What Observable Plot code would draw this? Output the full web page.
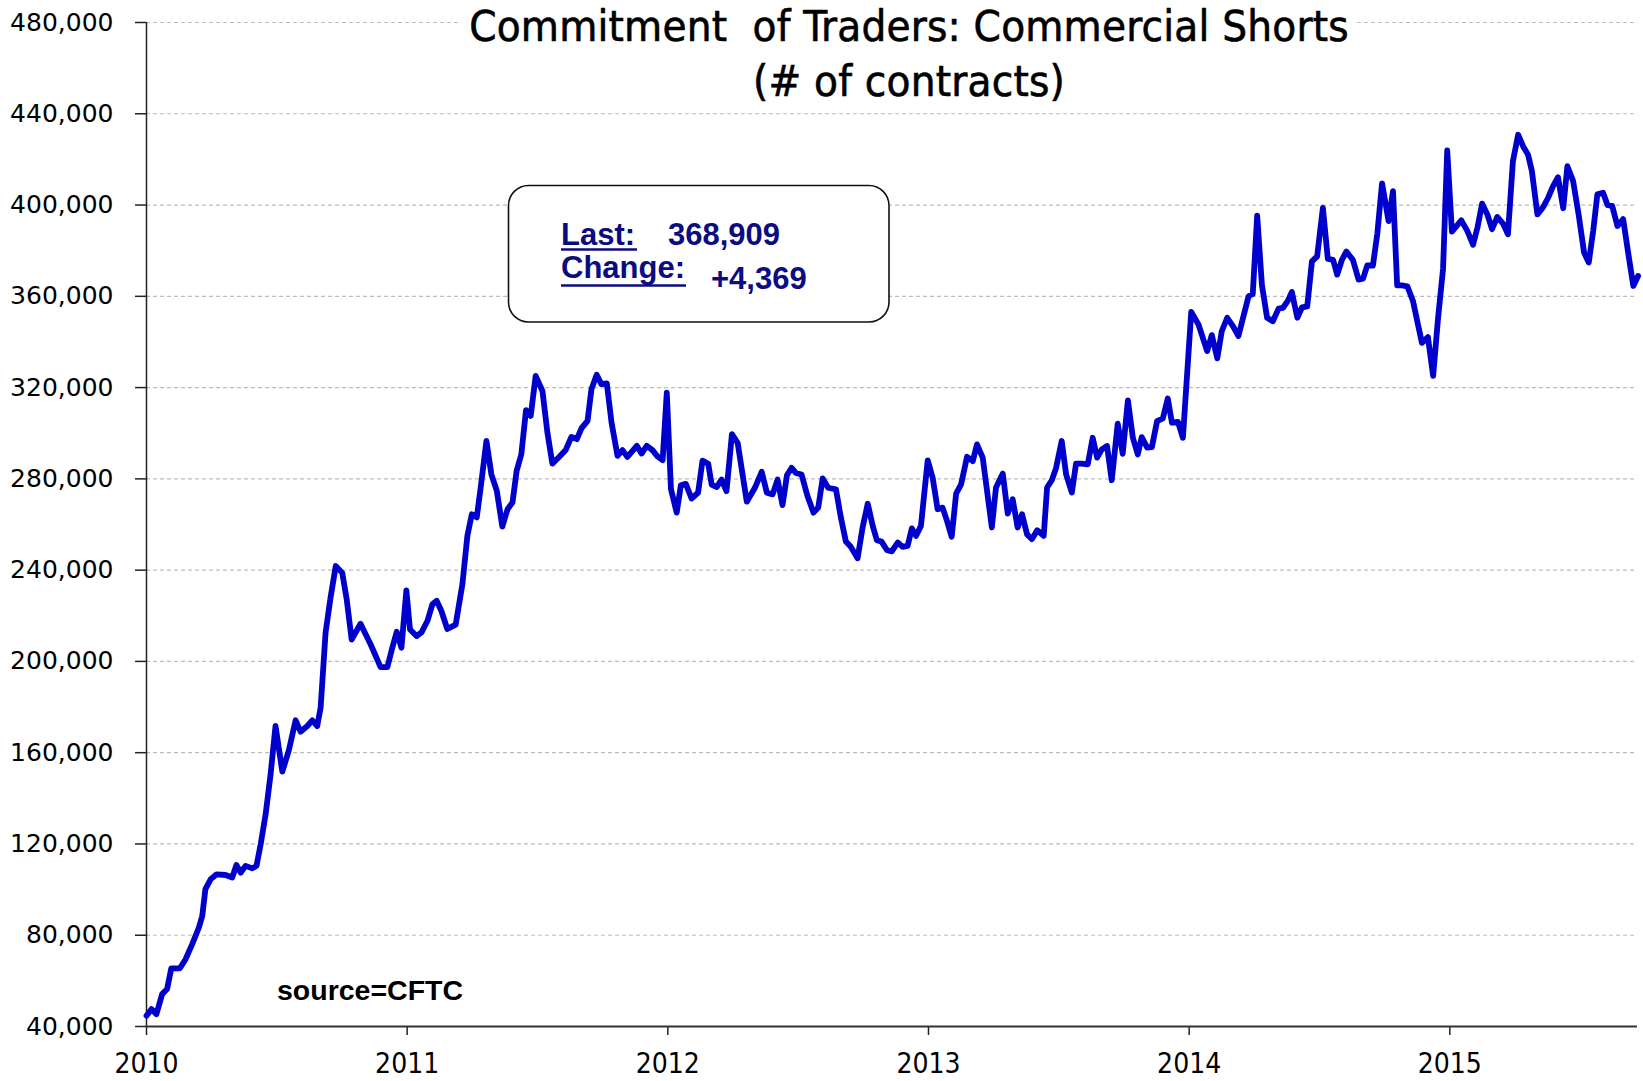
<!DOCTYPE html>
<html><head><meta charset="utf-8">
<script src="https://cdn.jsdelivr.net/npm/d3@7"></script>
<script src="https://cdn.jsdelivr.net/npm/@observablehq/plot@0.6"></script>
<style>
html,body{margin:0;padding:0;background:#fff;}
#wrap{position:relative;width:1643px;height:1081px;overflow:hidden;background:#fff;}
#wrap > svg{position:absolute;left:0;top:0;}
</style></head><body><div id="wrap"></div>
<script>
// Weekly report dates (decimal years) and commercial short positions
const t2010 = [2010.000,2010.019,2010.038,2010.060,2010.079,2010.095,2010.128,2010.150,2010.175,2010.201,2010.214,2010.226,2010.246,2010.269,2010.303,2010.329,2010.345,2010.361,2010.380,2010.406,2010.422,2010.438,2010.457,2010.476,2010.495,2010.521,2010.546,2010.572,2010.591,2010.617,2010.636,2010.655,2010.668,2010.687,2010.706,2010.726,2010.751,2010.768,2010.787,2010.821,2010.860,2010.898,2010.924,2010.943,2010.960,2010.978,2010.997,2011.011,2011.036];
const v2010 = [44700,47600,45400,54200,56400,65500,65500,69500,76000,83400,88500,100200,104500,106700,106400,105300,110800,107400,110400,109300,110400,119900,133000,150500,171700,151700,161000,174200,169200,171700,174200,171700,179700,212600,227900,241800,238800,227200,209600,216500,207400,197500,197500,206000,213000,206000,231100,214000,211100];

const t2011 = [2011.055,2011.078,2011.097,2011.113,2011.131,2011.154,2011.186,2011.212,2011.231,2011.248,2011.267,2011.282,2011.304,2011.323,2011.344,2011.365,2011.385,2011.404,2011.420,2011.438,2011.456,2011.474,2011.493,2011.519,2011.538,2011.557,2011.583,2011.608,2011.630,2011.651,2011.669,2011.692,2011.707,2011.727,2011.745,2011.766,2011.784,2011.807,2011.826,2011.845,2011.881,2011.899,2011.919,2011.941,2011.958,2011.980,2011.996];
const v2011 = [212700,217800,225100,226600,222200,214200,216100,233900,255000,264500,263100,276200,296600,282000,274700,259100,266700,269600,283500,290800,310100,307600,325100,318500,300300,286700,289600,292600,298400,297400,302200,305400,319300,325600,321500,321800,304700,290100,292600,289600,294500,291100,294500,292600,290100,288200,317800];

const t2012 = [2012.012,2012.034,2012.050,2012.069,2012.091,2012.116,2012.133,2012.155,2012.168,2012.188,2012.206,2012.225,2012.246,2012.268,2012.303,2012.334,2012.360,2012.380,2012.402,2012.421,2012.440,2012.457,2012.475,2012.491,2012.513,2012.536,2012.559,2012.577,2012.594,2012.615,2012.645,2012.664,2012.683,2012.702,2012.728,2012.747,2012.767,2012.786,2012.802,2012.820,2012.841,2012.859,2012.882,2012.901,2012.920,2012.936,2012.952,2012.971];
const v2012 = [275500,265200,277200,277800,271400,273900,288000,286600,277500,276400,279700,274600,299600,295700,270000,276100,283100,273900,273200,279700,268500,281600,284800,282600,281900,272400,265200,267400,280200,276100,275400,263000,252500,250200,245200,258600,269100,259400,253100,252500,248700,248200,252100,250200,250600,258300,255000,259400];

const t2013 = [2012.997,2013.016,2013.035,2013.054,2013.071,2013.089,2013.106,2013.125,2013.148,2013.170,2013.186,2013.208,2013.243,2013.259,2013.285,2013.304,2013.323,2013.342,2013.359,2013.378,2013.397,2013.417,2013.442,2013.455,2013.473,2013.489,2013.511,2013.528,2013.550,2013.566,2013.585,2013.611,2013.630,2013.647,2013.665,2013.685,2013.703,2013.726,2013.745,2013.765,2013.784,2013.803,2013.818,2013.839,2013.857,2013.877,2013.899,2013.918,2013.934,2013.957,2013.976];
const v2013 = [288100,280500,266700,267400,261600,254600,273500,277600,289700,287800,295100,289300,258700,276200,282300,264800,271100,258700,264500,255700,253600,257500,255000,276200,279400,284600,296600,282000,274000,286700,286700,286400,298000,289300,292900,294400,279400,304200,291000,314400,298000,290700,298300,293700,293900,305300,306500,315200,304600,305000,298000];

const t2014 = [2014.008,2014.036,2014.069,2014.087,2014.108,2014.125,2014.146,2014.168,2014.189,2014.210,2014.228,2014.244,2014.261,2014.279,2014.299,2014.321,2014.343,2014.360,2014.379,2014.394,2014.415,2014.433,2014.453,2014.471,2014.491,2014.513,2014.532,2014.552,2014.568,2014.586,2014.603,2014.628,2014.650,2014.667,2014.683,2014.705,2014.722,2014.740,2014.765,2014.782,2014.798,2014.816,2014.837,2014.859,2014.875,2014.893,2014.916,2014.936,2014.955,2014.974];
const v2014 = [353200,347600,336000,343000,332800,344700,350600,346900,342600,352000,360000,361000,395400,365100,350600,349100,354600,354900,358100,361900,350600,355200,355600,375300,377500,398800,376400,376000,369500,376000,379600,376000,367300,367700,373500,373500,387600,409500,393000,406100,364800,364800,364400,357800,349100,339600,342100,325100,350600,372000];

const t2015 = [2014.990,2015.008,2015.044,2015.067,2015.089,2015.106,2015.124,2015.144,2015.162,2015.182,2015.204,2015.223,2015.242,2015.262,2015.281,2015.300,2015.315,2015.336,2015.358,2015.377,2015.396,2015.415,2015.435,2015.451,2015.473,2015.494,2015.515,2015.533,2015.550,2015.566,2015.588,2015.605,2015.623,2015.643,2015.665,2015.684,2015.704,2015.722];
const v2015 = [423900,388400,393300,388700,382600,390100,400600,395900,389400,394800,391900,387200,419200,430800,425800,422100,414800,395900,399100,403200,408300,412200,398600,417000,410500,395900,379200,374800,388700,404700,405400,400000,399600,390800,393800,379200,364540,368909];

const yearTicks = [2010, 2011, 2012, 2013, 2014, 2015];
const yTicks = [40000, 80000, 120000, 160000, 200000, 240000, 280000, 320000, 360000, 400000, 440000, 480000];

const titleLines = ["Commitment  of Traders: Commercial Shorts", "(# of contracts)"];
const lastLabel = "Last:", lastValue = "368,909";
const changeLabel = "Change:", changeValue = "+4,369";
const sourceText = "source=CFTC";

const allT = [].concat(t2010, t2011, t2012, t2013, t2014, t2015);
const allV = [].concat(v2010, v2011, v2012, v2013, v2014, v2015);
if (allT.length !== allV.length) console.error("length mismatch", allT.length, allV.length);
const data = allT.map((t, i) => ({t, v: allV[i]}));

const wrap = document.getElementById("wrap");
const chart = Plot.plot({
  width: 1643, height: 1081,
  marginLeft: 146, marginRight: 6, marginTop: 22, marginBottom: 55,
  style: {fontFamily: "'DejaVu Sans', sans-serif", fontSize: "25px", color: "#000", background: "#fff", overflow: "visible"},
  x: {type: "linear", domain: [2010, 2015.72]},
  y: {domain: [40000, 480000]},
  marks: [
    Plot.gridY(yTicks.slice(1), {stroke: "#bdbdbd", strokeOpacity: 1, strokeDasharray: "4,3", strokeWidth: 1.2}),
    Plot.axisY(yTicks, {anchor: "left", tickSize: 11, tickPadding: 22, tickFormat: d3.format(","), fontSize: 25, label: null, stroke: "#222", strokeWidth: 1.5}),
    Plot.axisX(yearTicks, {anchor: "bottom", tickSize: 9, tickPadding: 18, tickFormat: d => String(d), fontSize: 28, fontFamily: "'DejaVu Sans Condensed', 'DejaVu Sans', sans-serif", label: null, stroke: "#222", strokeWidth: 1.5}),
    Plot.ruleX([2010], {stroke: "#222", strokeWidth: 1.5}),
    Plot.ruleY([40000], {stroke: "#333", strokeWidth: 2}),
    Plot.line(data, {x: "t", y: "v", stroke: "#0000cc", strokeWidth: 5.8, strokeLinejoin: "round", strokeLinecap: "round"})
  ]
});
wrap.appendChild(chart);

// Annotation overlay: title, info box, source
const ov = d3.select(wrap).append("svg")
  .attr("width", 1643).attr("height", 1081)
  .style("position", "absolute").style("left", "0px").style("top", "0px");

ov.append("rect").attr("x", 461).attr("y", 0).attr("width", 896).attr("height", 50).attr("fill", "#fff");
const tf = "'DejaVu Sans Condensed', 'DejaVu Sans', sans-serif";
[41, 96].forEach((y, i) => {
  ov.append("text").attr("x", 909).attr("y", y).attr("text-anchor", "middle")
    .style("font-family", tf).style("font-stretch", "condensed").style("font-size", "43.5px")
    .style("font-weight", "500").style("white-space", "pre").style("letter-spacing", "0.2px")
    .attr("fill", "#000").attr("stroke", "#000").attr("stroke-width", 0.6).text(titleLines[i]);
});

ov.append("rect").attr("x", 508.5).attr("y", 185.5).attr("width", 380.5).attr("height", 136.5)
  .attr("rx", 20).attr("ry", 20).attr("fill", "#fff").attr("stroke", "#111").attr("stroke-width", 1.6);
const bf = "'Liberation Sans', Arial, sans-serif";
const navy = "#0b0b82";
function boxText(x, y, s) {
  return ov.append("text").attr("x", x).attr("y", y)
    .style("font-family", bf).style("font-weight", "bold").style("font-size", "31px")
    .attr("fill", navy).text(s);
}
boxText(561, 245, lastLabel);
boxText(668, 245, lastValue);
boxText(561, 278, changeLabel);
boxText(711, 289, changeValue);
ov.append("line").attr("x1", 561).attr("x2", 637).attr("y1", 249.5).attr("y2", 249.5).attr("stroke", navy).attr("stroke-width", 2.6);
ov.append("line").attr("x1", 561).attr("x2", 686).attr("y1", 285.5).attr("y2", 285.5).attr("stroke", navy).attr("stroke-width", 2.6);

ov.append("text").attr("x", 277).attr("y", 1000)
  .style("font-family", bf).style("font-weight", "bold").style("font-size", "28.5px")
  .attr("fill", "#000").text(sourceText);
</script>
</body></html>
